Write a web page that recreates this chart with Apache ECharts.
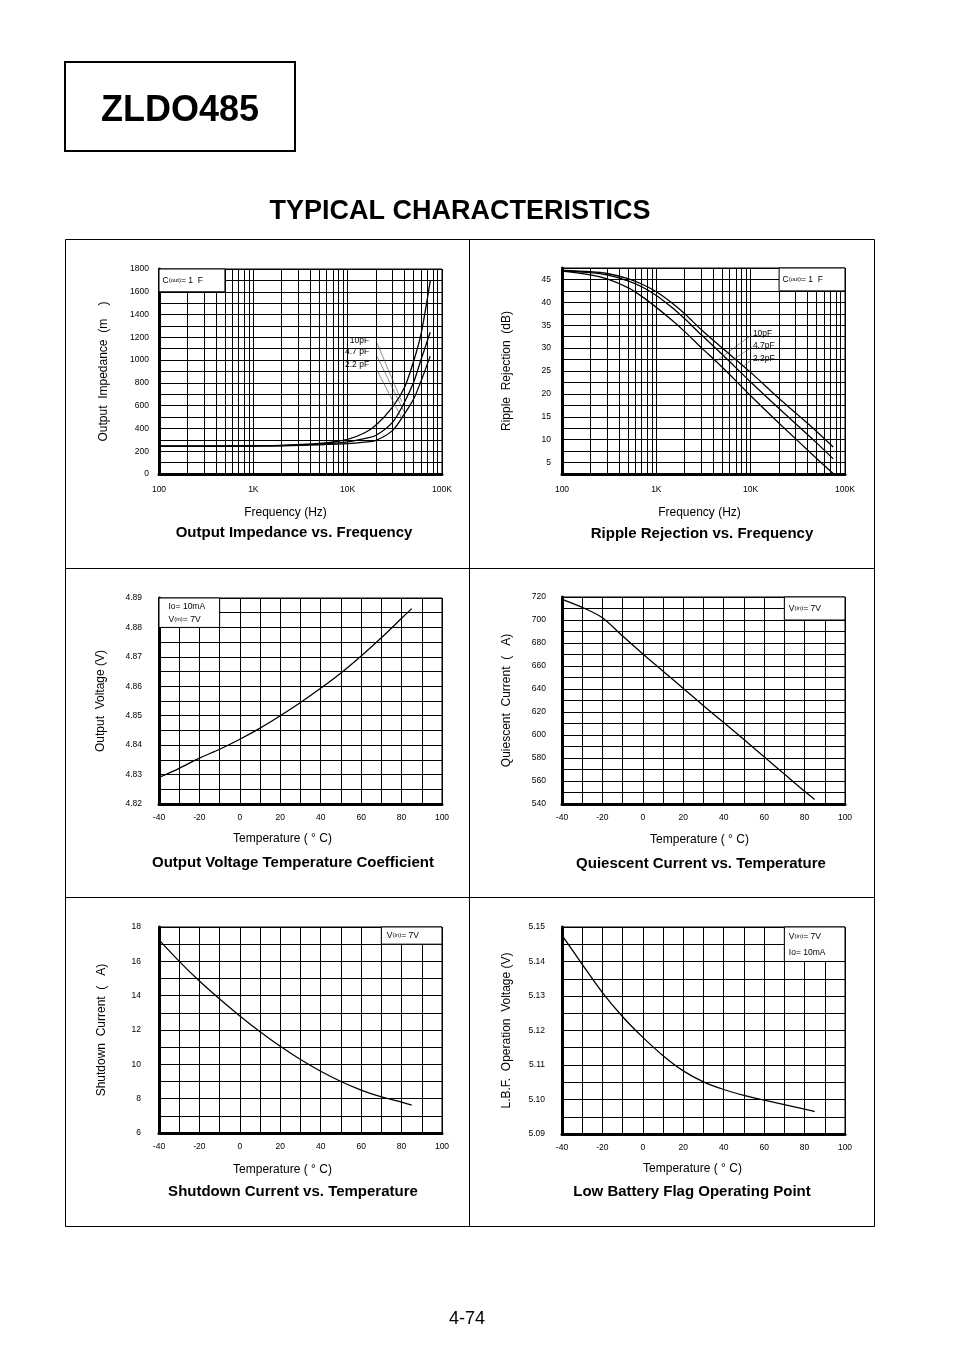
<!DOCTYPE html>
<html><head><meta charset="utf-8">
<script src="https://cdn.jsdelivr.net/npm/echarts@6/dist/echarts.min.js"></script>
<style>html,body{margin:0;padding:0;background:#fff}#c{width:954px;height:1352px}</style>
</head><body><div id="c"></div><script>
// ---------- DATA ----------
// Output impedance vs frequency (mOhm)
const freqZ    = [100, 200, 500, 1000, 2000, 5000, 10000, 15000, 20000, 30000, 40000, 50000, 60000, 75000];
const imp10pF  = [245, 245, 246, 248, 252, 268, 305, 360, 430, 590, 760, 990, 1230, 1695];
const imp47pF  = [245, 245, 246, 247, 250, 262, 282, 310, 340, 455, 630, 805, 1005, 1245];
const imp22pF  = [245, 245, 245, 246, 248, 256, 266, 280, 296, 383, 527, 658, 817, 1035];
// Ripple rejection vs frequency (dB)
const freqR    = [100, 200, 300, 500, 700, 1000, 1500, 2000, 3000, 5000, 10000, 20000, 50000, 75000];
const rr10pF   = [47.0, 46.7, 46.3, 45.2, 44.0, 42.3, 39.7, 37.5, 34.0, 30.0, 24.7, 19.0, 11.8, 8.4];
const rr47pF   = [46.9, 46.5, 46.0, 44.7, 43.4, 41.5, 38.7, 36.4, 32.9, 28.6, 22.6, 16.8, 9.3, 5.8];
const rr22pF   = [46.8, 46.0, 45.1, 43.2, 41.3, 38.9, 35.9, 33.6, 30.1, 25.8, 19.6, 13.6, 5.9, 2.6];
// Temperature based curves
const temps      = [-40, -30, -20, -10, 0, 10, 20, 30, 40, 50, 60, 70, 80, 85];
const vout       = [4.829, 4.8321, 4.8356, 4.8386, 4.8420, 4.8458, 4.8500, 4.8545, 4.8593, 4.8645, 4.8703, 4.8765, 4.8831, 4.8864];
const iq         = [718, 711, 702, 686, 670.5, 655.5, 640.5, 625.5, 610.8, 596, 581, 566, 551, 544];
const ishdn      = [17.25, 16.0, 14.85, 13.8, 12.82, 11.9, 11.05, 10.28, 9.6, 9.0, 8.5, 8.1, 7.8, 7.62];
const vlbf       = [5.1476, 5.1392, 5.1310, 5.1240, 5.1180, 5.1127, 5.1083, 5.1051, 5.1029, 5.1012, 5.0998, 5.0985, 5.0972, 5.0965];
// Tick labels
const freqTickValues = [100, 1000, 10000, 100000];
const freqTickLabels = ['100', '1K', '10K', '100K'];
const capLabelsZ = ['10pF', '4.7 pF', '2.2 pF'];
const capLabelsR = ['10pF', '4.7pF', '2.2pF'];

// ---------- CHART ----------
const FONT = '"Liberation Sans", Arial, Helvetica, sans-serif';
const chart = echarts.init(document.getElementById('c'), null, {renderer: 'canvas', width: 954, height: 1352});

const freqGrid = [];
[100, 1000, 10000].forEach(d => { for (let k = 1; k <= 9; k++) freqGrid.push(k * d); });
freqGrid.push(100000);

const grids = [
  {left: 159, top: 269, width: 283, height: 205},
  {left: 562, top: 268, width: 283, height: 206},
  {left: 159, top: 598, width: 283, height: 206},
  {left: 562, top: 597, width: 283, height: 207},
  {left: 159, top: 927, width: 283, height: 206},
  {left: 562, top: 927, width: 283, height: 207}
].map(g => Object.assign({show: true, borderColor: '#000', borderWidth: 1, containLabel: false}, g));

function base() {
  return {
    axisLine: {show: true, onZero: false, lineStyle: {color: '#000', width: 3}},
    axisTick: {show: false},
    splitLine: {show: true, lineStyle: {color: '#000', width: 1}}
  };
}
const tickFont = {fontFamily: FONT, fontSize: 8.5, color: '#000'};
function nameFont(shift) {
  return {fontFamily: FONT, fontSize: 12, color: '#000', padding: [0, 2 * shift, 0, 0]};
}
function freqAxis(gi, shift) {
  return Object.assign(base(), {
    type: 'log', logBase: 10, gridIndex: gi, min: 100, max: 100000,
    name: 'Frequency (Hz)', nameLocation: 'middle', nameGap: 33, nameTextStyle: nameFont(shift),
    axisTick: {show: false, customValues: freqGrid},
    axisLabel: Object.assign({customValues: freqTickValues, margin: 11,
      formatter: v => { const i = freqTickValues.findIndex(t => Math.abs(t - v) / t < 1e-6); return i >= 0 ? freqTickLabels[i] : ''; }}, tickFont)
  });
}
function tempAxis(gi, shift, gap) {
  return Object.assign(base(), {
    type: 'value', gridIndex: gi, min: -40, max: 100, interval: 10,
    name: 'Temperature ( ° C)', nameLocation: 'middle', nameGap: gap, nameTextStyle: nameFont(shift),
    axisLabel: Object.assign({margin: 9, formatter: v => (Math.round(v) % 20 === 0 ? String(Math.round(v)) : '')}, tickFont)
  });
}
function valAxis(gi, name, min, max, interval, labelEvery, decimals, margin, gap) {
  return Object.assign(base(), {
    type: 'value', gridIndex: gi, min, max, interval,
    name, nameLocation: 'middle', nameGap: gap, nameRotate: 90, nameTextStyle: nameFont(0),
    axisLabel: Object.assign({margin, formatter: v => {
      const r = Math.round(v / labelEvery * 1000) / 1000;
      if (Math.abs(r - Math.round(r)) > 1e-6) return '';
      return v.toFixed(decimals);
    }}, tickFont)
  });
}

function curve(gi, xs, ys, extra) {
  return Object.assign({
    type: 'line', xAxisIndex: gi, yAxisIndex: gi, showSymbol: false, smooth: 0.3,
    lineStyle: {color: '#000', width: 1.3}, silent: true, animation: false,
    data: xs.map((x, i) => [x, ys[i]])
  }, extra || {});
}
function box(from, to, text, dist, lh) {
  return {
    silent: true,
    itemStyle: {color: '#fff', borderColor: '#000', borderWidth: 1, opacity: 1},
    label: {show: true, position: 'insideLeft', distance: dist, color: '#000', fontFamily: FONT, fontSize: 8.5,
      lineHeight: lh || 12, formatter: text,
      rich: {s: {fontFamily: FONT, fontSize: 6, color: '#000', lineHeight: lh || 12}}},
    data: [[{coord: from}, {coord: to}]]
  };
}
function leaders(pairs) {
  return {
    silent: true, symbol: ['none', 'none'], label: {show: false},
    lineStyle: {color: '#444', width: 0.6, type: 'solid'},
    data: pairs.map(p => [{coord: p[0]}, {coord: p[1]}])
  };
}
function capLabels(coords, names, pos) {
  return {
    silent: true, symbol: 'rect', symbolSize: 0,
    label: {show: true, position: pos, distance: 1, color: '#000', fontFamily: FONT, fontSize: 8.5, formatter: '{b}'},
    data: coords.map((c, i) => ({coord: c, name: names[i], value: 0}))
  };
}

const series = [
  curve(0, freqZ, imp10pF, {
    markArea: box([100, 1600], [500, 1800], 'C{s|(out)}= 1  F', 4),
    markLine: leaders([[[20400, 1153], [37500, 635]], [[20400, 1036], [39600, 547]], [[20400, 913], [37500, 489]]]),
    markPoint: capLabels([[17300, 1170], [17300, 1074], [17300, 957]], capLabelsZ, 'left')
  }),
  curve(0, freqZ, imp47pF),
  curve(0, freqZ, imp22pF),
  curve(1, freqR, rr10pF, {
    markArea: box([20000, 42.5], [100000, 47.5], 'C{s|(out)}= 1  F', 4),
    markLine: leaders([[[10300, 32.9], [4020, 26.7]], [[10300, 30.2], [6000, 27.0]], [[10300, 27.5], [8500, 26.2]]]),
    markPoint: capLabels([[10300, 33.1], [10300, 30.5], [10300, 27.7]], capLabelsR, 'right')
  }),
  curve(1, freqR, rr47pF),
  curve(1, freqR, rr22pF),
  curve(2, temps, vout, {markArea: box([-40, 4.88], [-10, 4.89], 'Io= 10mA\nV{s|(in)}= 7V', 10, 13)}),
  curve(3, temps, iq, {markArea: box([70, 700], [100, 720], 'V{s|(in)}= 7V', 5)}),
  curve(4, temps, ishdn, {markArea: box([70, 17], [100, 18], 'V{s|(in)}= 7V', 6)}),
  curve(5, temps, vlbf, {markArea: box([70, 5.14], [100, 5.15], 'V{s|(in)}= 7V\nIo= 10mA', 5, 16)})
];

function txt(x, y, text, font, align) {
  return {type: 'text', silent: true, style: {text, x, y, font, fill: '#000', align: align || 'center', verticalAlign: 'middle'}};
}
const B14 = 'bold 15px ' + FONT;
const graphic = [
  {type: 'rect', silent: true, shape: {x: 65, y: 62, width: 230, height: 89}, style: {fill: 'none', stroke: '#000', lineWidth: 2}},
  txt(180, 111, 'ZLDO485', 'bold 36px ' + FONT),
  txt(460, 212, 'TYPICAL CHARACTERISTICS', 'bold 27px ' + FONT),
  {type: 'rect', silent: true, shape: {x: 65.5, y: 239.5, width: 809, height: 987}, style: {fill: 'none', stroke: '#000', lineWidth: 1}},
  {type: 'line', silent: true, shape: {x1: 469.5, y1: 239.5, x2: 469.5, y2: 1226.5}, style: {stroke: '#000', lineWidth: 1}},
  {type: 'line', silent: true, shape: {x1: 65.5, y1: 568.5, x2: 874.5, y2: 568.5}, style: {stroke: '#000', lineWidth: 1}},
  {type: 'line', silent: true, shape: {x1: 65.5, y1: 897.5, x2: 874.5, y2: 897.5}, style: {stroke: '#000', lineWidth: 1}},
  txt(294, 533, 'Output Impedance vs. Frequency', B14),
  txt(702, 534, 'Ripple Rejection vs. Frequency', B14),
  txt(293, 863, 'Output Voltage Temperature Coefficient', B14),
  txt(701, 864, 'Quiescent Current vs. Temperature', B14),
  txt(293, 1192, 'Shutdown Current vs. Temperature', B14),
  txt(692, 1192, 'Low Battery Flag Operating Point', B14),
  txt(467, 1319, '4-74', '18px ' + FONT)
];

chart.setOption({
  animation: false,
  backgroundColor: '#fff',
  grid: grids,
  xAxis: [
    freqAxis(0, 15), freqAxis(1, 4),
    tempAxis(2, 18, 29), tempAxis(3, 4, 30), tempAxis(4, 18, 31), tempAxis(5, 11, 29)
  ],
  yAxis: [
    valAxis(0, 'Output  Impedance  (m    )', 0, 1800, 100, 200, 0, 10, 49),
    valAxis(1, 'Ripple  Rejection  (dB)', 2.5, 47.5, 2.5, 5, 0, 11, 49),
    valAxis(2, 'Output  Voltage (V)', 4.82, 4.89, 0.005, 0.01, 2, 17, 52),
    valAxis(3, 'Quiescent  Current  (   A)', 540, 720, 10, 20, 0, 16, 49),
    valAxis(4, 'Shutdown  Current  (   A)', 6, 18, 1, 2, 0, 18, 51),
    valAxis(5, 'L.B.F.  Operation  Voltage (V)', 5.09, 5.15, 0.005, 0.01, 2, 17, 49)
  ],
  series,
  graphic
});
</script></body></html>
